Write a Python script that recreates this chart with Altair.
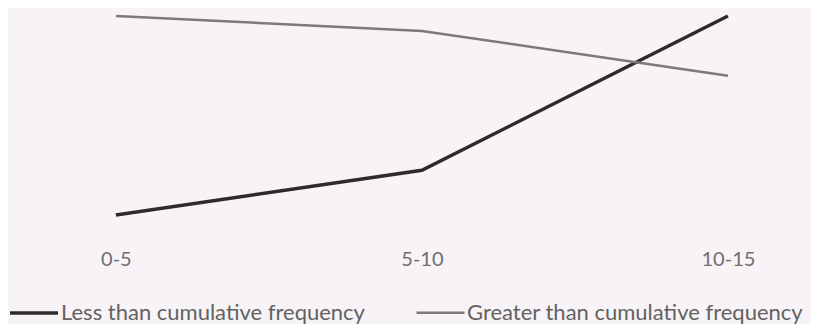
import altair as alt
import pandas as pd

categories = ["0-5", "5-10", "10-15"]
less_than = [3, 12, 43]
greater_than = [43, 40, 31]
series_names = ["Less than cumulative frequency", "Greater than cumulative frequency"]
series_colors = ["#2e2b2e", "#7d7a7e"]
series_widths = [3.5, 2.5]

rows = []
for name, vals in zip(series_names, [less_than, greater_than]):
    for c, v in zip(categories, vals):
        rows.append({"Class": c, "Value": v, "Series": name})
df = pd.DataFrame(rows)

legend = alt.Legend(title=None, orient="none", direction="horizontal",
                    legendX=0, legendY=275,
                    symbolType="stroke", symbolSize=2304,
                    labelOffset=1, labelFontSize=22, labelFont="Lato",
                    labelColor="#626262", labelLimit=0,
                    columnPadding=46, padding=0)

chart = alt.Chart(df).mark_line().encode(
    x=alt.X("Class:N", sort=categories,
            scale=alt.Scale(type="point", padding=0.312, align=0.565),
            axis=alt.Axis(title=None, domain=False, ticks=False, tickSize=0,
                          labelAngle=0, labelPadding=19, labelFontSize=20,
                          labelColor="#707070", labelFont="Lato", grid=False)),
    y=alt.Y("Value:Q", scale=alt.Scale(domain=[0, 43.8]), axis=None),
    color=alt.Color("Series:N",
                    scale=alt.Scale(domain=series_names, range=series_colors),
                    legend=legend),
    strokeWidth=alt.StrokeWidth("Series:N",
                                scale=alt.Scale(domain=series_names, range=series_widths),
                                legend=legend),
).properties(
    width=803, height=218, padding=0, background="#f7f3f6"
).configure_view(stroke=None)

chart.save("out.html", embed_options={"renderer": "svg", "actions": False})
